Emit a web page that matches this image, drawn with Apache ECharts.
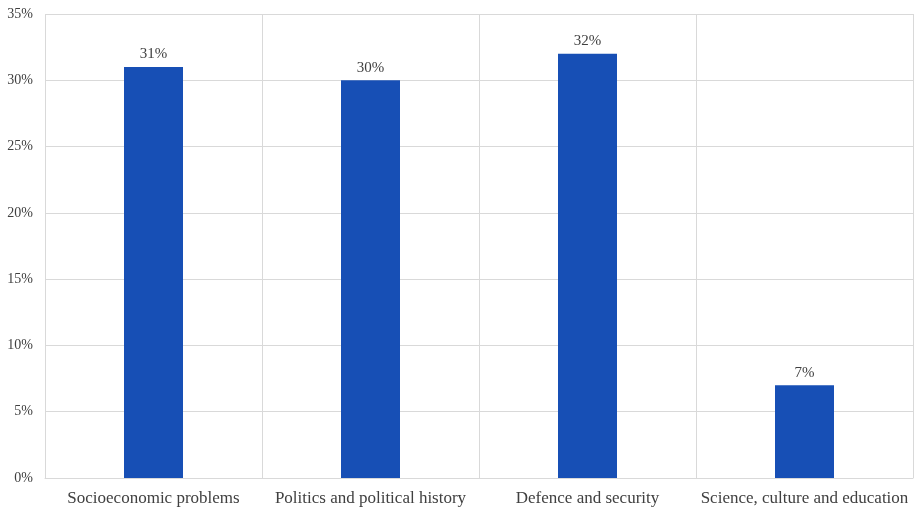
<!DOCTYPE html>
<html>
<head>
<meta charset="utf-8">
<script src="https://cdn.jsdelivr.net/npm/echarts@6/dist/echarts.min.js"></script>
<style>
  html, body { margin: 0; padding: 0; background: #fff; }
  #chart { width: 916px; height: 512px; }
</style>
</head>
<body>
<div id="chart"></div>
<script>
// Share of topics, in percent
const categories = [
  'Socioeconomic problems',
  'Politics and political history',
  'Defence and security',
  'Science, culture and education'
];
const shares = [31, 30, 32, 7];
const yTicks = [0, 5, 10, 15, 20, 25, 30, 35];

const FONT = '"Liberation Serif", "Times New Roman", serif';
const TEXT = '#404040';
const GRID = '#d9d9d9';

const chart = echarts.init(document.getElementById('chart'));
chart.setOption({
  animation: false,
  grid: { left: 45, right: 3, top: 14, bottom: 34 },
  xAxis: {
    type: 'category',
    data: categories,
    axisLine: { show: true, lineStyle: { color: GRID } },
    axisTick: { show: false },
    splitLine: { show: true, lineStyle: { color: GRID, width: 1 } },
    axisLabel: {
      interval: 0,
      margin: 12,
      color: TEXT,
      fontFamily: FONT,
      fontSize: 17
    }
  },
  yAxis: {
    type: 'value',
    min: yTicks[0],
    max: yTicks[yTicks.length - 1],
    interval: 5,
    axisLine: { show: false },
    axisTick: { show: false },
    splitLine: { show: true, lineStyle: { color: GRID, width: 1 } },
    axisLabel: {
      margin: 12,
      color: TEXT,
      fontFamily: FONT,
      fontSize: 14,
      formatter: v => v + '%'
    }
  },
  series: [{
    type: 'bar',
    data: shares,
    barWidth: 59,
    itemStyle: { color: '#174fb5' },
    label: {
      show: true,
      position: 'top',
      distance: 5,
      color: TEXT,
      fontFamily: FONT,
      fontSize: 15,
      formatter: p => p.value + '%'
    }
  }]
});
</script>
</body>
</html>
